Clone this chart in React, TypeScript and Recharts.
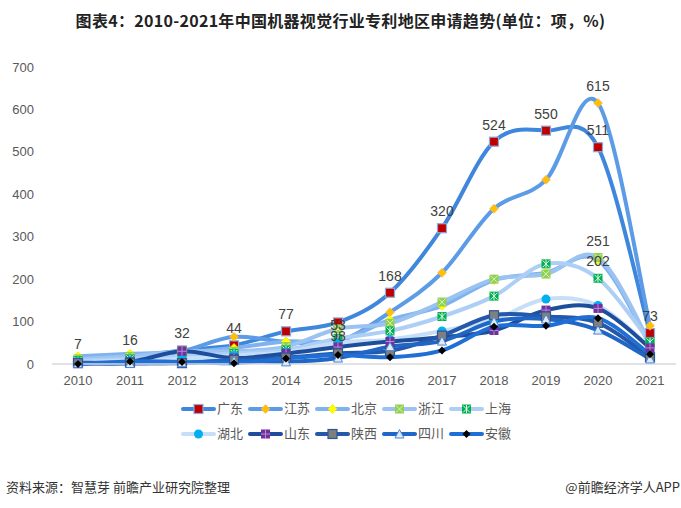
import React from 'react';
import { LineChart, Line, XAxis, YAxis, LabelList } from 'recharts';

const years = ['2010', '2011', '2012', '2013', '2014', '2015', '2016', '2017', '2018', '2019', '2020', '2021'];
const yTicks = [0, 100, 200, 300, 400, 500, 600, 700];

const guangdong = [7, 16, 32, 44, 77, 98, 168, 320, 524, 550, 511, 73];
const jiangsu = [10, 14, 30, 64, 52, 53, 122, 215, 366, 434, 615, 90];
const beijing = [18, 24, 28, 38, 53, 55, 104, 137, 198, 215, 245, 45];
const zhejiang = [12, 18, 30, 30, 41, 83, 96, 146, 200, 212, 251, 50];
const shanghai = [8, 12, 18, 25, 33, 60, 78, 112, 160, 236, 202, 52];
const hubei = [5, 8, 12, 20, 28, 50, 58, 78, 105, 153, 138, 40];
const shandong = [3, 5, 30, 14, 25, 40, 53, 63, 79, 127, 131, 38];
const shaanxi = [2, 3, 2, 10, 15, 25, 31, 67, 115, 112, 97, 16];
const sichuan = [1, 1, 3, 8, 5, 14, 41, 54, 100, 106, 80, 12];
const anhui = [0, 6, 5, 2, 13, 21, 16, 32, 88, 90, 108, 23];

const names = ['广东', '江苏', '北京', '浙江', '上海', '湖北', '山东', '陕西', '四川', '安徽'];
const values = [guangdong, jiangsu, beijing, zhejiang, shanghai, hubei, shandong, shaanxi, sichuan, anhui];
const lineColors = ['#3F86DD', '#5C9BE5', '#7FB2EE', '#9BC3F2', '#AECFF5', '#C6DEF8', '#1E4E9B', '#2359A8', '#1F66C6', '#1F6FD6'];
const markerKinds = ['redSquare', 'orangeDiamond', 'yellowDiamond', 'greenX', 'greenStar', 'blueCircle', 'purplePlus', 'graySquare', 'triangle', 'blackDiamond'];

// labels shown: [seriesIndex, pointIndex, text, position]
const labelSpecs: [number, number, string, 'above' | 'below'][] = [
  [0, 0, '7', 'above'], [0, 1, '16', 'above'], [0, 2, '32', 'above'], [0, 3, '44', 'above'],
  [0, 4, '77', 'above'], [0, 5, '98', 'below'], [0, 6, '168', 'above'], [0, 7, '320', 'above'],
  [0, 8, '524', 'above'], [0, 9, '550', 'above'], [0, 10, '511', 'above'], [0, 11, '73', 'above'],
  [1, 5, '53', 'above'], [1, 10, '615', 'above'], [3, 10, '251', 'above'], [4, 10, '202', 'above'],
];

const data = years.map((y, i) => {
  const row: Record<string, any> = { year: y };
  names.forEach((n, s) => { row[n] = values[s][i]; });
  return row;
});

const FONT = '"Liberation Sans", Arial, "Noto Sans CJK SC", sans-serif';

const excelSmooth = (context: any) => {
  let pts: number[][] = [];
  return {
    areaStart() {},
    areaEnd() {},
    lineStart() { pts = []; },
    point(x: number, y: number) { pts.push([+x, +y]); },
    lineEnd() {
      const n = pts.length;
      if (!n) return;
      context.moveTo(pts[0][0], pts[0][1]);
      for (let i = 0; i < n - 1; i++) {
        const p0 = pts[i - 1] || pts[i];
        const p1 = pts[i];
        const p2 = pts[i + 1];
        const p3 = pts[i + 2] || p2;
        context.bezierCurveTo(
          p1[0] + (p2[0] - p0[0]) / 6, p1[1] + (p2[1] - p0[1]) / 6,
          p2[0] - (p3[0] - p1[0]) / 6, p2[1] - (p3[1] - p1[1]) / 6,
          p2[0], p2[1]
        );
      }
    },
  };
};

function Marker({ kind, cx, cy }: { kind: string; cx: number; cy: number }) {
  const s = 4.5;
  switch (kind) {
    case 'redSquare':
      return <rect x={cx - s} y={cy - s} width={2 * s} height={2 * s} fill="#C00000" stroke="#8EA9DB" strokeWidth={1.2} />;
    case 'orangeDiamond':
      return <polygon points={`${cx},${cy - 4.5} ${cx + 4.5},${cy} ${cx},${cy + 4.5} ${cx - 4.5},${cy}`} fill="#FFC000" stroke="#F4B183" strokeWidth={0.6} />;
    case 'yellowDiamond':
      return <polygon points={`${cx},${cy - 4.5} ${cx + 4.5},${cy} ${cx},${cy + 4.5} ${cx - 4.5},${cy}`} fill="#FFFF00" stroke="#E6E600" strokeWidth={0.6} />;
    case 'greenX':
      return (
        <g>
          <rect x={cx - s} y={cy - s} width={2 * s} height={2 * s} fill="#92D050" />
          <path d={`M${cx - 3.5},${cy - 3.5}L${cx + 3.5},${cy + 3.5}M${cx + 3.5},${cy - 3.5}L${cx - 3.5},${cy + 3.5}`} stroke="#DDEFC8" strokeWidth={1} />
        </g>
      );
    case 'greenStar':
      return (
        <g>
          <rect x={cx - s} y={cy - s} width={2 * s} height={2 * s} fill="#00B050" />
          <path d={`M${cx - 3.5},${cy - 3.5}L${cx + 3.5},${cy + 3.5}M${cx + 3.5},${cy - 3.5}L${cx - 3.5},${cy + 3.5}M${cx},${cy - 4}L${cx},${cy + 4}`} stroke="#E6F6EC" strokeWidth={1} />
        </g>
      );
    case 'blueCircle':
      return <circle cx={cx} cy={cy} r={4.5} fill="#00B0F0" />;
    case 'purplePlus':
      return (
        <g>
          <rect x={cx - s} y={cy - s} width={2 * s} height={2 * s} fill="#7030A0" />
          <path d={`M${cx},${cy - s}L${cx},${cy + s}M${cx - s},${cy}L${cx + s},${cy}`} stroke="#B58BD3" strokeWidth={1} />
        </g>
      );
    case 'graySquare':
      return <rect x={cx - s} y={cy - s} width={2 * s} height={2 * s} fill="#7F7F7F" stroke="#2F5597" strokeWidth={1.2} />;
    case 'triangle':
      return <polygon points={`${cx},${cy - 4.5} ${cx + 4.5},${cy + 4} ${cx - 4.5},${cy + 4}`} fill="#DDEBF7" stroke="#4A86D8" strokeWidth={1} />;
    case 'blackDiamond':
      return <polygon points={`${cx},${cy - 4} ${cx + 4},${cy} ${cx},${cy + 4} ${cx - 4},${cy}`} fill="#000000" />;
    default:
      return null;
  }
}

function makeLabel(seriesIdx: number) {
  return (props: any) => {
    const { x, y, index } = props;
    const spec = labelSpecs.find((l) => l[0] === seriesIdx && l[1] === index);
    if (!spec) return null;
    const dy = spec[3] === 'above' ? -17 : 14;
    return (
      <text key={`lab-${seriesIdx}-${index}`} x={x} y={y + dy} textAnchor="middle" dominantBaseline="central"
        fill="#404040" fontSize={14} fontFamily={FONT}>
        {spec[2]}
      </text>
    );
  };
}

function LegendItem({ idx }: { idx: number }) {
  return (
    <div style={{ display: 'flex', alignItems: 'center', width: 67 }}>
      <svg width={35} height={12} style={{ display: 'block' }}>
        <line x1={2} y1={6} x2={33} y2={6} stroke={lineColors[idx]} strokeWidth={4} strokeLinecap="round" />
        <Marker kind={markerKinds[idx]} cx={17.5} cy={6} />
      </svg>
      <span style={{ fontSize: 13, color: '#595959', marginLeft: 1, fontFamily: FONT, lineHeight: '14px' }}>{names[idx]}</span>
    </div>
  );
}

export default function App() {
  return (
    <div style={{ position: 'absolute', left: 0, top: 0, width: 681, height: 508, background: '#fff', fontFamily: FONT }}>
      <div style={{ position: 'absolute', left: 0, top: 10, width: 681, textAlign: 'center', fontSize: 16, letterSpacing: 0.3, fontWeight: 'bold', color: '#222', lineHeight: '20px', fontFamily: '"Noto Sans CJK SC", sans-serif' }}>
        图表4：2010-2021年中国机器视觉行业专利地区申请趋势(单位：项，%)
      </div>
      <LineChart width={681} height={508} data={data} margin={{ top: 67, right: 5, bottom: 114, left: 12 }}>
        <XAxis dataKey="year" axisLine={{ stroke: '#D9D9D9', strokeWidth: 1.5 }} tickLine={false} interval={0}
          padding={{ left: 26, right: 26 }}
          tick={{ fill: '#595959', fontSize: 13, fontFamily: FONT }} tickMargin={6} height={30} />
        <YAxis domain={[0, 700]} ticks={yTicks} axisLine={false} tickLine={false} interval={0} width={40}
          tick={{ fill: '#595959', fontSize: 13, fontFamily: FONT }} tickMargin={12} />
        {names.map((n, s) => (
          <Line key={n} dataKey={n} type={excelSmooth as any} stroke={lineColors[s]} strokeWidth={4}
            isAnimationActive={false}
            dot={(p: any) => <Marker key={`${n}-${p.index}`} kind={markerKinds[s]} cx={p.cx} cy={p.cy} />}
            activeDot={false}>
            <LabelList dataKey={n} content={makeLabel(s)} />
          </Line>
        ))}
      </LineChart>
      <div style={{ position: 'absolute', left: 181, top: 402, display: 'flex' }}>
        {[0, 1, 2, 3, 4].map((i) => <LegendItem key={i} idx={i} />)}
      </div>
      <div style={{ position: 'absolute', left: 181, top: 427, display: 'flex' }}>
        {[5, 6, 7, 8, 9].map((i) => <LegendItem key={i} idx={i} />)}
      </div>
      <div style={{ position: 'absolute', left: 6, top: 478, fontSize: 13, color: '#333', fontFamily: '"Noto Sans CJK SC", sans-serif', lineHeight: '18px' }}>
        资料来源：智慧芽 前瞻产业研究院整理
      </div>
      <div style={{ position: 'absolute', right: 1, top: 478, fontSize: 13, color: '#333', fontFamily: '"Noto Sans CJK SC", sans-serif', lineHeight: '18px' }}>
        @前瞻经济学人APP
      </div>
    </div>
  );
}
